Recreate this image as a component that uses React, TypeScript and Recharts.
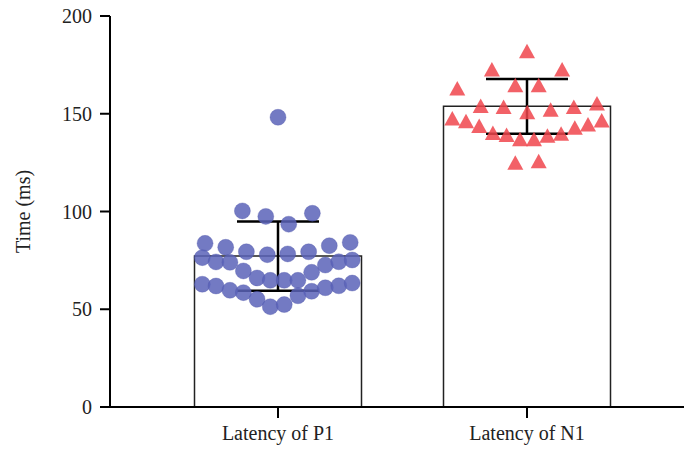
import React from 'react';
import { ComposedChart, Bar, Scatter, ErrorBar, XAxis, YAxis } from 'recharts';

// Group means with standard deviation
const groups = ['Latency of P1', 'Latency of N1'];
const groupMeans = [77.2, 153.8];
const groupSd = [17.7, 14.0];

// Individual P1 latencies (ms) with horizontal swarm offsets
const p1Values = [
  148.2, 100.3, 97.5, 99.1, 93.5,
  83.7, 81.7, 79.4, 77.9, 78.3, 79.4, 82.5, 84.2,
  76.4, 74.2, 74.0, 69.6, 66.0, 64.8, 64.8, 64.8, 68.9, 72.6, 74.3, 75.2,
  62.8, 61.9, 59.7, 58.5, 55.1, 51.3, 52.4, 56.9, 59.2, 61.0, 62.0, 63.4,
];
const p1Offsets = [
  0, -0.143, -0.049, 0.138, 0.043,
  -0.293, -0.21, -0.127, -0.043, 0.039, 0.123, 0.206, 0.29,
  -0.304, -0.249, -0.193, -0.139, -0.084, -0.031, 0.025, 0.08, 0.135, 0.19, 0.244, 0.298,
  -0.304, -0.249, -0.193, -0.139, -0.084, -0.031, 0.025, 0.08, 0.135, 0.19, 0.244, 0.298,
];

// Individual N1 latencies (ms) with horizontal swarm offsets
const n1Values = [
  180.9, 171.5, 171.5, 161.8, 163.5, 163.5,
  152.8, 152.4, 149.7, 151.0, 152.4, 154.1,
  146.5, 145.1, 142.6, 139.0, 138.0, 135.9, 135.9, 137.6, 138.6, 141.7, 143.4, 145.4,
  123.8, 124.6,
];
const n1Offsets = [
  0, -0.141, 0.141, -0.28, -0.047, 0.047,
  -0.186, -0.094, 0.001, 0.095, 0.188, 0.281,
  -0.3, -0.245, -0.192, -0.137, -0.082, -0.028, 0.028, 0.082, 0.137, 0.192, 0.245, 0.3,
  -0.047, 0.047,
];

const yTicks = [0, 50, 100, 150, 200];

const barData = groups.map((name, i) => ({ name, mean: groupMeans[i], sd: groupSd[i] }));
const p1Data = p1Values.map((y, i) => ({ x: 1 + p1Offsets[i], y }));
const n1Data = n1Values.map((y, i) => ({ x: 2 + n1Offsets[i], y }));

const font = '"Liberation Serif", "DejaVu Serif", serif';
const textStyle = { fontSize: 20, fill: '#222', fontFamily: font };

const Dot = (props: any) => (
  <circle cx={props.cx} cy={props.cy} r={8} fill="#5a63b8" fillOpacity={0.85} stroke="#4a53a8" strokeOpacity={0.4} strokeWidth={0.8} />
);

const Tri = (props: any) => {
  const { cx, cy } = props;
  const h = 14.5;
  const w = 16;
  const pts = `${cx},${cy - (2 * h) / 3} ${cx - w / 2},${cy + h / 3} ${cx + w / 2},${cy + h / 3}`;
  return <polygon points={pts} fill="#f0454c" fillOpacity={0.85} />;
};

const App: React.FC = () => {
  return (
    <div style={{ position: 'absolute', left: 0, top: 0 }}>
      <ComposedChart width={684} height={449} data={barData} margin={{ top: 16, right: 0, bottom: 0, left: 0 }}>
        <XAxis
          xAxisId="cat"
          dataKey="name"
          type="category"
          height={42}
          padding={{ left: 43.5, right: 32.5 }}
          axisLine={{ stroke: '#000', strokeWidth: 2 }}
          tickLine={{ stroke: '#000', strokeWidth: 2 }}
          tickSize={11}
          tickMargin={8}
          tick={textStyle}
        />
        {/* numeric axis over the same span, used to place the individual points */}
        <XAxis xAxisId="num" type="number" dataKey="x" domain={[0.3253, 2.6305]} allowDataOverflow hide />
        <YAxis
          type="number"
          domain={[0, 200]}
          ticks={yTicks}
          width={110}
          axisLine={{ stroke: '#000', strokeWidth: 2 }}
          tickLine={{ stroke: '#000', strokeWidth: 2 }}
          tickSize={10}
          tickMargin={8}
          tick={textStyle}
          label={{
            value: 'Time (ms)',
            angle: -90,
            position: 'insideLeft',
            offset: 23,
            style: { ...textStyle, textAnchor: 'middle' },
          }}
        />
        <Bar xAxisId="cat" dataKey="mean" barSize={167} fill="#fff" stroke="#222" strokeWidth={1.5} isAnimationActive={false}>
          <ErrorBar dataKey="sd" width={41} stroke="#000" strokeWidth={2.5} direction="y" />
        </Bar>
        <Scatter xAxisId="num" data={p1Data} dataKey="y" shape={Dot} isAnimationActive={false} />
        <Scatter xAxisId="num" data={n1Data} dataKey="y" shape={Tri} isAnimationActive={false} />
      </ComposedChart>
    </div>
  );
};

export default App;
